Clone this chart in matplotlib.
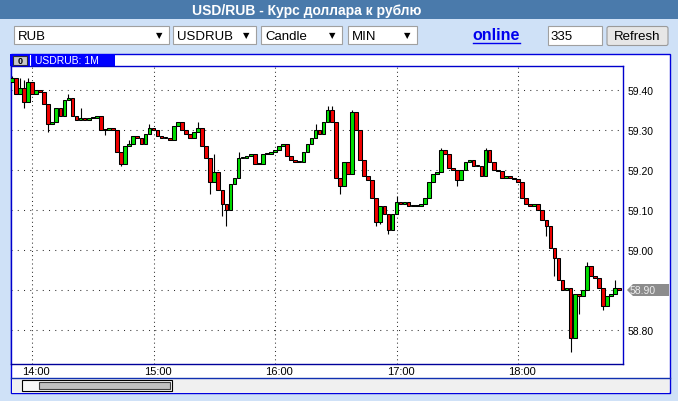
import matplotlib
matplotlib.use("Agg")
import matplotlib.pyplot as plt
from matplotlib.patches import Rectangle, FancyBboxPatch, Polygon
from matplotlib.transforms import ScaledTranslation, blended_transform_factory

plt.rcParams['font.family'] = ['Liberation Sans', 'DejaVu Sans']

# --- данные ---
title = "USD/RUB - Курс доллара к рублю"
menus = ["RUB", "USDRUB", "Candle", "MIN"]
bars_count = "335"
series_label = "USDRUB: 1M"

start_min = 13 * 60 + 50   # первая свеча 13:50
step_min = 2
first_open = 59.420
close = [
    59.430, 59.390, 59.405, 59.370, 59.420, 59.390, 59.400, 59.395, 59.365, 59.315,
    59.320, 59.355, 59.335, 59.375, 59.380, 59.335, 59.325, 59.330, 59.325, 59.330,
    59.330, 59.335, 59.300, 59.300, 59.305, 59.300, 59.245, 59.215, 59.260, 59.265,
    59.285, 59.280, 59.265, 59.290, 59.305, 59.300, 59.285, 59.280, 59.280, 59.275,
    59.310, 59.320, 59.300, 59.290, 59.280, 59.295, 59.305, 59.260, 59.230, 59.170,
    59.195, 59.150, 59.115, 59.100, 59.165, 59.180, 59.230, 59.230, 59.235, 59.240,
    59.215, 59.215, 59.240, 59.240, 59.245, 59.250, 59.260, 59.265, 59.235, 59.225,
    59.220, 59.220, 59.245, 59.265, 59.280, 59.300, 59.290, 59.320, 59.350, 59.320,
    59.180, 59.160, 59.220, 59.190, 59.345, 59.300, 59.225, 59.185, 59.175, 59.130,
    59.070, 59.110, 59.090, 59.050, 59.090, 59.120, 59.115, 59.120, 59.110, 59.110,
    59.110, 59.115, 59.130, 59.170, 59.190, 59.195, 59.250, 59.240, 59.205, 59.200,
    59.175, 59.200, 59.220, 59.225, 59.210, 59.210, 59.185, 59.250, 59.220, 59.200,
    59.198, 59.180, 59.185, 59.180, 59.178, 59.170, 59.130, 59.115, 59.110, 59.115,
    59.100, 59.075, 59.060, 59.005, 58.980, 58.925, 58.900, 58.905, 58.780, 58.890,
    58.885, 58.900, 58.960, 58.935, 58.930, 58.905, 58.860, 58.885, 58.890, 58.905,
    58.900,
]
high_wick = {0: 59.435, 2: 59.430, 3: 59.425, 4: 59.430, 14: 59.390, 17: 59.355,
             29: 59.275, 34: 59.315, 46: 59.320, 50: 59.240, 56: 59.245, 75: 59.315,
             78: 59.360, 79: 59.360, 84: 59.350, 95: 59.135, 106: 59.255, 117: 59.255,
             142: 58.970, 149: 58.925}
low_wick = {3: 59.355, 9: 59.295, 23: 59.288, 27: 59.210, 49: 59.140, 52: 59.085,
            53: 59.060, 81: 59.140, 90: 59.060, 91: 59.065, 93: 59.040, 110: 59.160,
            132: 59.035, 134: 58.935, 138: 58.745, 140: 58.840, 146: 58.850}

price_ticks = [58.80, 58.90, 59.00, 59.10, 59.20, 59.30, 59.40]
hour_ticks = [14, 15, 16, 17, 18]
hour_labels = ["14:00", "15:00", "16:00", "17:00", "18:00"]

# --- разметка (пиксели) ---
W, H = 678, 402
px_per_min = 2.025
plot_l, plot_r, plot_t, plot_b = 11, 623, 67, 365

fig = plt.figure(figsize=(W / 100, H / 100), dpi=100)
ui = fig.add_axes([0, 0, 1, 1])
ui.set_xlim(0, W)
ui.set_ylim(H, 0)
ui.axis('off')


def rect(x0, y0, x1, y1, **kw):
    ui.add_patch(Rectangle((x0, y0), x1 - x0, y1 - y0, **kw))


rect(0, 0, W, H, fc='#cfe1f7', ec='none')
rect(0, 0, W, 20, fc='#4a7aab', ec='none')
ui.text(307, 10.5, title, color='white', fontsize=10, fontweight='bold',
        ha='center', va='center')

# панель инструментов
boxes = [(14, 169), (173, 256), (261, 342), (348, 417)]
for (x0, x1), lab in zip(boxes, menus):
    rect(x0, 27, x1, 45, fc='white', ec='#a0a0a0', lw=0.8)
    ui.text(x0 + 4, 36.5, lab, fontsize=9.5, va='center', ha='left')
    ui.text(x1 - 9.5, 36, '▼', fontsize=6, ha='center', va='center',
            family='DejaVu Sans')

ui.text(496.5, 35.5, 'online', color='#0000ee', fontsize=11.5,
        fontweight='bold', ha='center', va='center')
ui.plot([473, 520], [43.5, 43.5], color='#0000ee', lw=1)

rect(548, 27, 602, 46, fc='white', ec='#a0a0a0', lw=0.8)
ui.text(550, 37, bars_count, fontsize=9.5, va='center', ha='left')
ui.add_patch(FancyBboxPatch((607, 27.5), 61, 19,
                            boxstyle='round,pad=0,rounding_size=2',
                            fc='#e6e6e6', ec='#9a9a9a', lw=0.8))
ui.text(637.5, 37, 'Refresh', fontsize=9.5, ha='center', va='center')

# панель графика
rect(11, 54.5, 670, 394, fc='white', ec='#0000dd', lw=1)
rect(11.7, 379, 669.3, 393.5, fc='#f0f0f0', ec='none')
ui.plot([11, 670], [379, 379], color='#1030b0', lw=1)
rect(21.7, 381, 172, 392, fc='#f8f8f8', ec='black', lw=0.8)
rect(39, 383, 170, 390, fc='#c0c0c0', ec='#404040', lw=0.8)

rect(10, 54.5, 115, 67, fc='#0000ff', ec='none')
rect(13, 57, 27, 65.5, fc='#c8c8c8', ec='#303030', lw=0.8)
ui.text(20, 61.5, '0', fontsize=6.5, fontweight='bold', ha='center', va='center')
ui.plot([29.5, 29.5], [56, 66], color='white', lw=0.8)
ui.text(35, 61, series_label, color='white', fontsize=7.5, va='center', ha='left')

# --- свечи ---
ax = fig.add_axes([plot_l / W, (H - plot_b) / H,
                   (plot_r - plot_l) / W, (plot_b - plot_t) / H])
x14 = 32  # пиксель линии 14:00
ax.set_xlim(14 * 60 - (x14 - plot_l) / px_per_min,
            14 * 60 + (plot_r - x14) / px_per_min)
ax.set_ylim(59.40 - (plot_b - 91) / 400, 59.40 + (91 - plot_t) / 400)
ax.set_facecolor('white')

body_w = 1.8
opens = [first_open] + close[:-1]
for i, (o, c) in enumerate(zip(opens, close)):
    x = start_min + i * step_min
    hi = high_wick.get(i, max(o, c))
    lo = low_wick.get(i, min(o, c))
    if hi > max(o, c) or lo < min(o, c):
        ax.vlines(x, lo, hi, color='black', lw=0.8, zorder=2)
    col = '#00dd00' if c >= o else '#f00000'
    bottom = min(o, c)
    h = max(abs(c - o), 0.0025)
    ax.add_patch(Rectangle((x - body_w / 2, bottom), body_w, h,
                           fc=col, ec='black', lw=0.75, zorder=3))

last = close[-1]
ax.set_yticks(price_ticks)
# подпись последней цены рисуется отдельной меткой
ax.set_yticklabels(['' if abs(p - last) < 1e-9 else f'{p:.2f}' for p in price_ticks])
ax.yaxis.tick_right()
ax.tick_params(axis='y', length=0, pad=3.5, labelsize=7.5)
ax.set_xticks([h * 60 for h in hour_ticks])
ax.set_xticklabels(hour_labels)
ax.tick_params(axis='x', length=0, pad=1.5, labelsize=8)
for lab in ax.get_xticklabels():
    lab.set_transform(lab.get_transform() +
                      ScaledTranslation(0.04, 0, fig.dpi_scale_trans))

ax.yaxis.grid(True, color='#333333', linestyle=(0, (1, 5)), lw=0.75)
ax.xaxis.grid(True, color='#333333', linestyle=(0, (1, 3)), lw=0.75)
ax.set_axisbelow(True)
for s in ax.spines.values():
    s.set_color('#0000cc')
    s.set_linewidth(1.0)
ax.spines['bottom'].set_color('#000099')

# метка последней цены
tr = blended_transform_factory(ax.transAxes, ax.transData)
ax.add_patch(Polygon([(1.0065, last), (1.0163, last + 0.015), (1.0752, last + 0.015),
                      (1.0752, last - 0.015), (1.0163, last - 0.015)],
                     closed=True, transform=tr, clip_on=False,
                     fc='#8c8c8c', ec='none', zorder=5))
ax.text(1.0105, last, f'{last:.2f}', transform=tr, color='#eeeeee', fontsize=7.5,
        ha='left', va='center', zorder=6, clip_on=False)

fig.savefig('out.png', dpi=100)
